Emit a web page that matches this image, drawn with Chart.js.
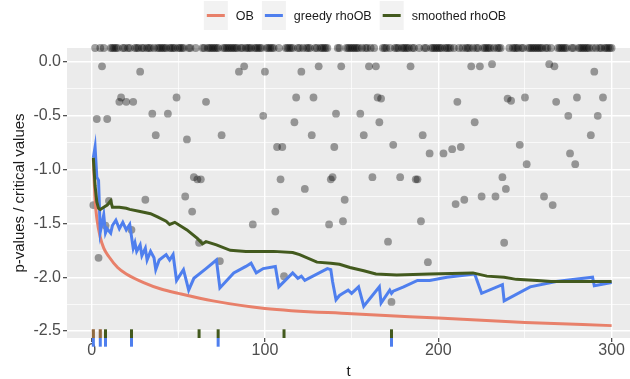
<!DOCTYPE html>
<html>
<head>
<meta charset="utf-8">
<script src="https://cdn.jsdelivr.net/npm/chart.js@4.4.1/dist/chart.umd.min.js"></script>
<style>
  html, body { margin: 0; padding: 0; background: #fff; }
  #wrap { width: 630px; height: 379px; }
</style>
</head>
<body>
<div id="wrap"><canvas id="rhoChart" width="630" height="379"></canvas></div>
<script>
// Critical value curves (log10 scale)
const obT = [1, 2, 3, 5, 7, 10, 15, 20, 30, 40, 50, 70, 100, 150, 200, 250, 300];
const obV = [-0.90, -1.28, -1.45, -1.63, -1.73, -1.81, -1.91, -1.97, -2.05, -2.11, -2.15, -2.22, -2.29, -2.34, -2.38, -2.42, -2.45];

const greedyT = [1, 2, 3, 4, 5, 7, 8, 9, 11, 12, 14, 16, 18, 20, 22, 24, 25, 26, 28, 29, 31, 32, 34, 36, 37, 39, 43, 45, 47, 49,
  53, 56, 59, 66, 72, 74, 82, 89, 92, 95, 99, 106, 108, 116, 119, 121, 123, 136, 138, 139, 141, 143, 145, 148, 150, 152, 154, 157,
  166, 167, 172, 173, 174, 180, 188, 195, 205, 221, 225, 237, 238, 253, 268, 289, 290, 300];
const greedyV = [-0.89, -0.79, -1.07, -1.10, -1.58, -1.42, -1.59, -1.55, -1.59, -1.52, -1.47, -1.55, -1.49, -1.56, -1.51, -1.73, -1.68, -1.76, -1.70, -1.80, -1.73, -1.84, -1.76, -1.82, -1.93, -1.84, -1.79, -1.84, -1.79, -2.03,
  -1.93, -2.12, -2.01, -1.92, -1.84, -2.10, -1.96, -1.90, -1.87, -1.96, -1.92, -1.90, -2.09, -1.96, -2.01, -1.99, -2.03, -1.92, -1.93, -2.04, -2.21, -2.17, -2.15, -2.12, -2.15, -2.12, -2.09, -2.27,
  -2.09, -2.24, -2.12, -2.15, -2.13, -2.09, -2.03, -2.03, -2.00, -1.97, -2.15, -2.07, -2.22, -2.09, -2.04, -2.00, -2.08, -2.05];

const smoothT = [1, 2, 3, 4, 5, 7, 9, 10, 11, 12, 16, 20, 22, 28, 34, 38, 43, 45, 48, 55, 61, 64, 66, 72, 80, 89, 105, 116, 120,
  130, 138, 143, 149, 157, 164, 176, 195, 220, 228, 238, 245, 257, 265, 300];
const smoothV = [-0.89, -1.15, -1.30, -1.36, -1.37, -1.35, -1.33, -1.31, -1.29, -1.35, -1.35, -1.36, -1.37, -1.39, -1.41, -1.44, -1.48, -1.51, -1.49, -1.56, -1.64, -1.69, -1.67, -1.70, -1.75, -1.76, -1.76, -1.77, -1.79,
  -1.86, -1.87, -1.88, -1.91, -1.94, -1.97, -1.98, -1.97, -1.96, -1.99, -2.00, -2.02, -2.03, -2.04, -2.04];

// Observed p-values (log10) below 1
const pT = [1, 3, 4, 6, 8, 9, 10, 16, 17, 20, 23, 24, 28, 31, 35, 37, 44, 49, 54, 55, 58, 59, 61, 62, 63, 66, 74, 75, 85, 88,
  93, 99, 100, 106, 107, 109, 110, 111, 117, 118, 121, 123, 127, 128, 131, 137, 138, 139, 140, 141, 144, 145, 146, 155, 157,
  160, 162, 164, 165, 166, 167, 171, 173, 174, 178, 184, 187, 188, 190, 191, 194, 195, 203, 208, 210, 211, 213, 215, 219, 221,
  224, 225, 231, 233, 237, 238, 239, 240, 242, 247, 250, 251, 261, 264, 266, 267, 268, 275, 276, 279, 280, 288, 290, 292, 295];
const pV = [-1.33, -0.53, -1.82, -0.04, -1.52, -0.53, -1.29, -0.37, -0.33, -0.37, -1.56, -0.37, -0.09, -1.28, -0.48, -0.68, -0.48, -0.33, -1.25, -0.72, -1.39, -1.07, -1.09, -1.68, -1.09, -0.37, -1.85, -0.68, -0.09, -0.04,
  -1.51, -0.50, -0.09, -1.39, -0.79, -1.09, -0.79, -1.99, -0.56, -0.33, -0.09, -1.18, -0.68, -0.33, -0.04, -1.51, -1.09, -1.07, -0.79, -0.48, -0.04, -1.48, -1.28, -0.48, -0.68,
  -0.04, -1.07, -0.04, -0.33, -0.56, -0.34, -1.67, -2.23, -0.77, -1.07, -0.04, -1.09, -1.09, -1.48, -0.68, -1.86, -0.85, -0.85, -0.81, -1.32, -0.37, -0.79, -1.28, -0.04, -0.56,
  -0.04, -1.25, -0.02, -1.25, -1.07, -1.68, -1.18, -0.34, -0.36, -0.77, -0.33, -0.95, -1.25, -0.02, -1.33, -0.04, -0.37, -0.50, -0.85, -0.95, -0.33, -0.68, -0.09, -0.50, -0.33];

// Steps where the p-value is 1 (drawn along the top edge)
const topT = [2, 5, 7, 11, 12, 13, 14, 15, 18, 19, 21, 22, 25, 26, 27, 29, 30, 32, 33, 34, 36, 38, 39, 40, 41, 42, 43, 45, 46, 47,
  48, 50, 51, 52, 53, 56, 57, 60, 64, 65, 67, 68, 69, 70, 71, 72, 73, 76, 77, 78, 79, 80, 81, 82, 83, 84, 86, 87, 89, 90,
  91, 92, 94, 95, 96, 97, 98, 101, 102, 103, 104, 105, 108, 112, 113, 114, 115, 116, 119, 120, 122, 124, 125, 126, 129, 130, 132, 133, 134, 135,
  136, 142, 143, 147, 148, 149, 150, 151, 152, 153, 154, 156, 158, 159, 161, 163, 168, 169, 170, 172, 175, 176, 177, 179, 180, 181, 182, 183, 185, 186,
  189, 192, 193, 196, 197, 198, 199, 200, 201, 202, 204, 205, 206, 207, 209, 212, 214, 216, 217, 218, 220, 222, 223, 226, 227, 228, 229, 230, 232, 234,
  235, 236, 241, 243, 244, 245, 246, 248, 249, 252, 253, 254, 255, 256, 257, 258, 259, 260, 262, 263, 265, 269, 270, 271, 272, 273, 274, 277, 278, 281,
  282, 283, 284, 285, 286, 287, 289, 291, 293, 294, 296, 297, 298, 299, 300];
const topLevel = 0.13;

// Rejection times for each procedure
const rugOB = [1, 5];
const rugGreedy = [1, 5, 8, 23, 73, 173];
const rugSmoothed = [1, 5, 8, 23, 62, 73, 111, 173];

// Axis ticks
const xMajor = [0, 100, 200, 300];
const xMinor = [50, 150, 250];
const yMajor = [-2.5, -2, -1.5, -1, -0.5, 0];
const yMinor = [-2.25, -1.75, -1.25, -0.75, -0.25];

const colOB = '#E8806A';
const colGreedy = '#4F7FEE';
const colSmooth = '#435A1E';
const FONT = '"Liberation Sans", Arial, Helvetica, sans-serif';

Chart.defaults.font.family = FONT;

const pairs = (xs, ys) => xs.map((t, i) => ({ x: t, y: ys[i] }));
const isMajor = (list, v) => list.some(m => Math.abs(m - v) < 1e-9);

// Grey ggplot-style panel
const panelPlugin = {
  id: 'panel',
  beforeDraw(chart) {
    const { ctx, chartArea: a } = chart;
    ctx.save();
    ctx.fillStyle = '#fff';
    ctx.fillRect(0, 0, chart.width, chart.height);
    ctx.fillStyle = '#EBEBEB';
    ctx.fillRect(a.left, a.top, a.right - a.left, a.bottom - a.top);
    ctx.restore();
  }
};

// Rug marks along the bottom of the panel
const rugPlugin = {
  id: 'rug',
  afterDatasetsDraw(chart) {
    const { ctx, chartArea: a, scales: { x } } = chart;
    const len = (a.bottom - a.top) * 0.03;
    ctx.save();
    ctx.lineWidth = 3;
    const mark = (t, y0, y1, color) => {
      const px = x.getPixelForValue(t);
      ctx.strokeStyle = color;
      ctx.beginPath();
      ctx.moveTo(px, y0);
      ctx.lineTo(px, y1);
      ctx.stroke();
    };
    rugOB.forEach(t => mark(t, a.bottom - len, a.bottom, colOB));
    rugSmoothed.forEach(t => {
      ctx.globalAlpha = rugOB.includes(t) ? 0.55 : 1;
      mark(t, a.bottom - len, a.bottom, colSmooth);
    });
    ctx.globalAlpha = 1;
    rugGreedy.forEach(t => mark(t, a.bottom, a.bottom + len, colGreedy));
    ctx.restore();
  }
};

// Legend on top with grey key boxes
const legendPlugin = {
  id: 'ggLegend',
  afterDraw(chart) {
    const ctx = chart.ctx;
    const items = chart.data.datasets.filter(d => d.inLegend);
    const keyW = 24, keyTop = 1, keyH = 29, gap = 8;
    ctx.save();
    ctx.font = '12.5px ' + FONT;
    const widths = items.map(d => ctx.measureText(d.label).width);
    let total = 0;
    widths.forEach((w, i) => { total += keyW + gap + w + (i < widths.length - 1 ? gap : 0); });
    let x = 355 - total / 2;
    const midY = keyTop + keyH / 2;
    items.forEach((d, i) => {
      ctx.fillStyle = '#F2F2F2';
      ctx.fillRect(x, keyTop, keyW, keyH);
      ctx.strokeStyle = d.borderColor;
      ctx.lineWidth = 3;
      ctx.beginPath();
      ctx.moveTo(x + 3, midY);
      ctx.lineTo(x + keyW - 3, midY);
      ctx.stroke();
      ctx.fillStyle = '#1a1a1a';
      ctx.textBaseline = 'middle';
      ctx.textAlign = 'left';
      ctx.fillText(d.label, x + keyW + gap, midY + 1);
      x += keyW + gap + widths[i] + gap;
    });
    ctx.restore();
  }
};

const ctx = document.getElementById('rhoChart').getContext('2d');
const rhoChart = new Chart(ctx, {
  type: 'scatter',
  data: {
    datasets: [
      {
        label: 'OB', inLegend: true, order: 3,
        data: pairs(obT, obV), showLine: true,
        borderColor: colOB, borderWidth: 3, pointRadius: 0,
        cubicInterpolationMode: 'monotone'
      },
      {
        label: 'greedy rhoOB', inLegend: true, order: 2,
        data: pairs(greedyT, greedyV), showLine: true,
        borderColor: colGreedy, borderWidth: 3, pointRadius: 0, tension: 0
      },
      {
        label: 'smoothed rhoOB', inLegend: true, order: 1,
        data: pairs(smoothT, smoothV), showLine: true,
        borderColor: colSmooth, borderWidth: 3, pointRadius: 0, tension: 0
      },
      {
        label: 'p-values', order: 4,
        data: pairs(pT, pV),
        backgroundColor: 'rgba(0,0,0,0.37)', borderWidth: 0, pointRadius: 3.9
      },
      {
        label: 'p = 1', order: 5, clip: false,
        data: topT.map(t => ({ x: t, y: topLevel })),
        backgroundColor: 'rgba(0,0,0,0.37)', borderWidth: 0, pointRadius: 3.9
      }
    ]
  },
  options: {
    responsive: false,
    animation: false,
    devicePixelRatio: 1,
    layout: { autoPadding: false, padding: { top: 48, left: 0, right: 0, bottom: 0 } },
    plugins: {
      legend: { display: false },
      tooltip: { enabled: false }
    },
    scales: {
      x: {
        type: 'linear',
        min: -14.2,
        max: 310.6,
        afterBuildTicks: s => { s.ticks = xMajor.concat(xMinor).sort((a, b) => a - b).map(v => ({ value: v })); },
        afterFit: s => { s.height = 41; s.paddingLeft = 0; s.paddingRight = 0; },
        border: { display: false },
        grid: {
          color: '#FFFFFF',
          lineWidth: c => (c.tick && isMajor(xMajor, c.tick.value)) ? 1.4 : 0.7,
          tickLength: 4,
          tickWidth: 1.1,
          tickColor: c => (c.tick && isMajor(xMajor, c.tick.value)) ? '#333333' : 'rgba(0,0,0,0)'
        },
        ticks: {
          autoSkip: false,
          maxRotation: 0,
          padding: 1,
          color: '#4D4D4D',
          font: { size: 16, lineHeight: 1 },
          callback: v => isMajor(xMajor, v) ? String(v) : ''
        },
        title: {
          display: true,
          text: 't',
          color: '#1a1a1a',
          font: { size: 15, lineHeight: 1 },
          padding: { top: 0, bottom: 0 }
        }
      },
      y: {
        min: -2.565,
        max: 0.13,
        afterBuildTicks: s => { s.ticks = yMajor.concat(yMinor).sort((a, b) => a - b).map(v => ({ value: v })); },
        afterFit: s => { s.width = 67; s.paddingTop = 0; s.paddingBottom = 0; },
        border: { display: false },
        grid: {
          color: '#FFFFFF',
          lineWidth: c => (c.tick && isMajor(yMajor, c.tick.value)) ? 1.4 : 0.7,
          tickLength: 4,
          tickWidth: 1.1,
          tickColor: c => (c.tick && isMajor(yMajor, c.tick.value)) ? '#333333' : 'rgba(0,0,0,0)'
        },
        ticks: {
          autoSkip: false,
          padding: 2,
          color: '#4D4D4D',
          font: { size: 16, lineHeight: 1 },
          callback: v => isMajor(yMajor, v) ? v.toFixed(1) : ''
        },
        title: {
          display: true,
          text: 'p-values / critical values',
          color: '#1a1a1a',
          font: { size: 15, lineHeight: 1 },
          padding: { top: 12, bottom: 0 }
        }
      }
    }
  },
  plugins: [panelPlugin, rugPlugin, legendPlugin]
});
</script>
</body>
</html>
